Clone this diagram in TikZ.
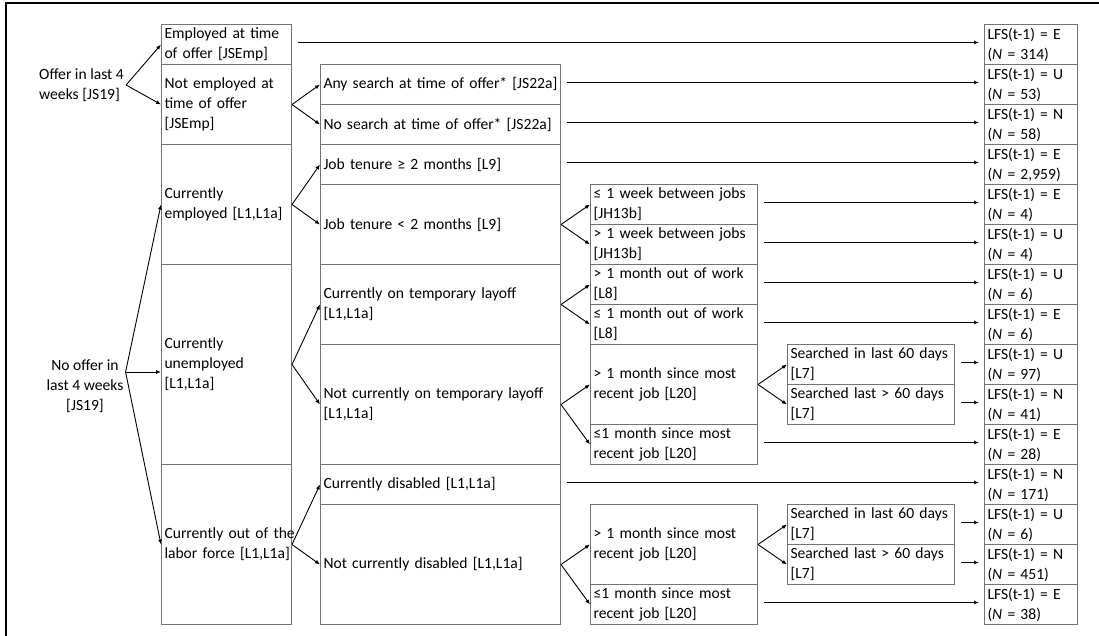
\documentclass[tikz,border=0pt]{standalone}
\usepackage{fontspec}
\setmainfont{Carlito}
\usepackage{tikz}
\usetikzlibrary{arrows.meta}

\begin{document}
\begin{tikzpicture}[x=1pt,y=-1pt,font=\fontsize{15.6}{20}\selectfont,
  box/.style={draw=black!55,line width=1pt,anchor=north west,align=left,inner xsep=3pt,inner ysep=0pt},
  c1/.style={box,text width=124pt},
  c2/.style={box,text width=234pt},
  c3/.style={box,text width=161pt},
  c5/.style={box,text width=87pt,minimum height=40pt},
  arr/.style={-{Latex[length=5pt,width=4pt]},line width=0.9pt}]
\useasboundingbox (0,0) rectangle (1099,636);
\draw[line width=1.6pt] (6,636) -- (6,3) -- (1099,3);
% left labels
\node (offer) [align=left,anchor=west,inner sep=2pt] at (37,85) {Offer in last 4\\weeks [JS19]};
\node (nooffer) [align=center,inner sep=2pt] at (85,386) {No offer in\\last 4 weeks\\{}[JS19]};
% first column
\node (emp) [c1,minimum height=40pt] at (161,24) {Employed at time\\of offer [JSEmp]};
\node (notemp) [c1,minimum height=80pt] at (161,64) {Not employed at\\time of offer\\{}[JSEmp]};
\node (curemp) [c1,minimum height=120pt] at (161,144) {Currently\\employed [L1,L1a]};
\node (unemp) [c1,minimum height=200pt] at (161,264) {Currently\\unemployed\\{}[L1,L1a]};
\node (olf) [c1,minimum height=160pt] at (161,464) {\mbox{Currently out of the}\\\mbox{labor force [L1,L1a]}};
% second column
\node (anys) [c2,minimum height=40pt] at (320,64) {Any search at time of offer* [JS22a]};
\node (nos) [c2,minimum height=40pt] at (320,104) {No search at time of offer* [JS22a]};
\node (ten2) [c2,minimum height=40pt] at (320,144) {Job tenure ≥ 2 months [L9]};
\node (tenlt) [c2,minimum height=80pt] at (320,184) {Job tenure < 2 months [L9]};
\node (layoff) [c2,minimum height=80pt] at (320,264) {Currently on temporary layoff\\{}[L1,L1a]};
\node (nolayoff) [c2,minimum height=120pt] at (320,344) {Not currently on temporary layoff\\{}[L1,L1a]};
\node (dis) [c2,minimum height=40pt] at (320,464) {Currently disabled [L1,L1a]};
\node (nodis) [c2,minimum height=120pt] at (320,504) {Not currently disabled [L1,L1a]};
% third column
\node (wk1) [c3,minimum height=40pt] at (590,184) {≤ 1 week between jobs\\{}[JH13b]};
\node (wk2) [c3,minimum height=40pt] at (590,224) {> 1 week between jobs\\{}[JH13b]};
\node (out1) [c3,minimum height=40pt] at (590,264) {> 1 month out of work\\{}[L8]};
\node (out2) [c3,minimum height=40pt] at (590,304) {≤ 1 month out of work\\{}[L8]};
\node (job1) [c3,minimum height=80pt] at (590,344) {> 1 month since most\\recent job [L20]};
\node (job2) [c3,minimum height=40pt] at (590,424) {≤1 month since most\\recent job [L20]};
\node (job3) [c3,minimum height=80pt] at (590,504) {> 1 month since most\\recent job [L20]};
\node (job4) [c3,minimum height=40pt] at (590,584) {≤1 month since most\\recent job [L20]};
% fourth column
\node (srch1) [c3,minimum height=40pt] at (787,344) {Searched in last 60 days\\{}[L7]};
\node (srch2) [c3,minimum height=40pt] at (787,384) {Searched last > 60 days\\{}[L7]};
\node (srch3) [c3,minimum height=40pt] at (787,504) {Searched in last 60 days\\{}[L7]};
\node (srch4) [c3,minimum height=40pt] at (787,544) {Searched last > 60 days\\{}[L7]};
% outcomes
\foreach \s/\n [count=\i] in {E/314,U/53,N/58,E/{2,959},E/4,U/4,U/6,E/6,U/97,N/41,E/28,N/171,U/6,N/451,E/38}
  \node (lfs\i) [c5] at (984,{24+40*(\i-1)}) {LFS(t-1) = \s\\(\textit{N} = \n)};
% branches
\coordinate (split) at ([yshift=14pt]nooffer.east);
\draw[arr] (offer.east) -- (emp.west);
\draw[arr] (offer.east) -- (notemp.west);
\draw[arr] (split) -- (curemp.west);
\draw[arr] (split) -- (split -| unemp.west);
\draw[arr] (split) -- (olf.west);
\draw[arr] (notemp.east) -- (anys.west);
\draw[arr] (notemp.east) -- (nos.west);
\draw[arr] (curemp.east) -- (ten2.west);
\draw[arr] (curemp.east) -- (tenlt.west);
\draw[arr] (unemp.east) -- (layoff.west);
\draw[arr] (unemp.east) -- (nolayoff.west);
\draw[arr] (olf.east) -- (dis.west);
\draw[arr] (olf.east) -- (nodis.west);
\draw[arr] (tenlt.east) -- (wk1.west);
\draw[arr] (tenlt.east) -- (wk2.west);
\draw[arr] (layoff.east) -- (out1.west);
\draw[arr] (layoff.east) -- (out2.west);
\draw[arr] (nolayoff.east) -- (job1.west);
\draw[arr] (nolayoff.east) -- (job2.west);
\draw[arr] (nodis.east) -- (job3.west);
\draw[arr] (nodis.east) -- (job4.west);
\draw[arr] (job1.east) -- (srch1.west);
\draw[arr] (job1.east) -- (srch2.west);
\draw[arr] (job3.east) -- (srch3.west);
\draw[arr] (job3.east) -- (srch4.west);
% straight to outcome
\foreach \a/\b in {emp/1,anys/2,nos/3,ten2/4,wk1/5,wk2/6,out1/7,out2/8,srch1/9,srch2/10,job2/11,dis/12,srch3/13,srch4/14,job4/15}
  \draw[arr,shorten >=5pt] ([xshift=6pt,yshift=2pt]\a.east) -- ([yshift=2pt]lfs\b.west);
\end{tikzpicture}
\end{document}
